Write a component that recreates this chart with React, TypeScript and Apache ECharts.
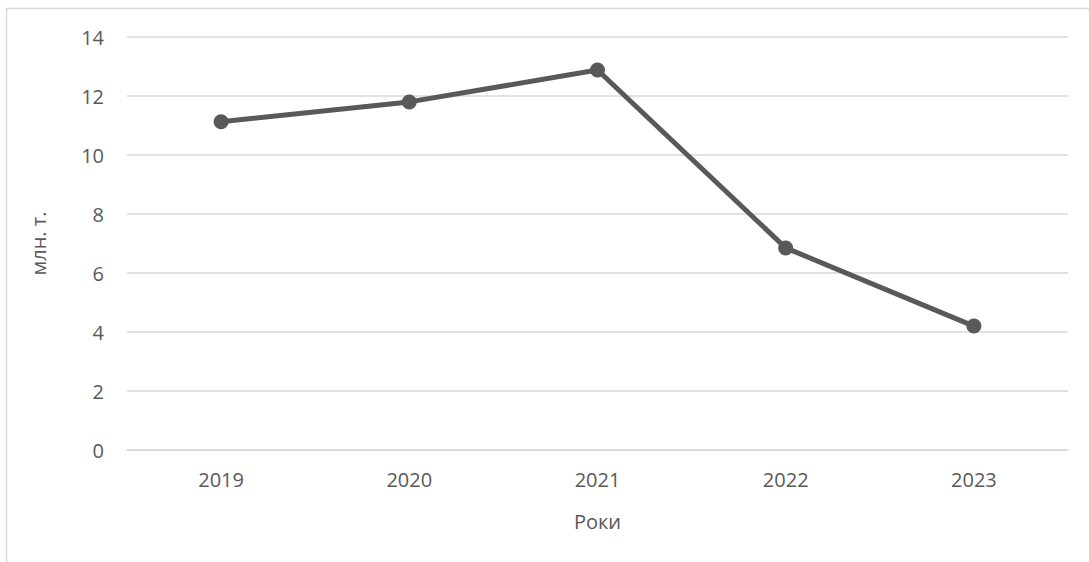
import React, { useEffect, useRef } from "react";
import * as echarts from "echarts";

const categories = ["2019", "2020", "2021", "2022", "2023"];
const values = [11.13, 11.8, 12.88, 6.85, 4.2];
const yTicks = { min: 0, max: 14, interval: 2 };
const xName = "Роки";
const yName = "млн. т.";

export default function App() {
  const ref = useRef<HTMLDivElement>(null);
  useEffect(() => {
    document.body.style.margin = "0";
    const chart = echarts.init(ref.current!, null, { renderer: "svg" });
    const font = "'Open Sans', sans-serif";
    chart.setOption({
      animation: false,
      backgroundColor: "#ffffff",
      graphic: [
        {
          type: "rect",
          shape: { x: 6.5, y: 8.5, width: 1200, height: 700 },
          style: { fill: "none", stroke: "#d9d9d9", lineWidth: 1.5 },
          silent: true,
        },
      ],
      grid: { left: 127, right: 21, top: 37, bottom: 112 },
      xAxis: {
        type: "category",
        data: categories,
        boundaryGap: true,
        name: xName,
        nameLocation: "middle",
        nameGap: 61,
        nameTextStyle: { color: "#595959", fontSize: 20, fontFamily: font },
        axisLine: { show: true, lineStyle: { color: "#d9d9d9", width: 1.5 } },
        axisTick: { show: false },
        axisLabel: { color: "#595959", fontSize: 20, fontFamily: font, margin: 19 },
      },
      yAxis: {
        type: "value",
        min: yTicks.min,
        max: yTicks.max,
        interval: yTicks.interval,
        name: yName,
        nameLocation: "middle",
        nameGap: 79,
        nameTextStyle: { color: "#595959", fontSize: 20, fontFamily: font },
        axisLine: { show: false },
        axisTick: { show: false },
        splitLine: { lineStyle: { color: "#d9d9d9", width: 1.5 } },
        axisLabel: { color: "#595959", fontSize: 20, fontFamily: font, margin: 23 },
      },
      series: [
        {
          type: "line",
          data: values,
          symbol: "circle",
          symbolSize: 15,
          lineStyle: { color: "#595959", width: 5 },
          itemStyle: { color: "#595959" },
        },
      ],
    });
    return () => chart.dispose();
  }, []);
  return <div ref={ref} style={{ width: 1089, height: 562 }} />;
}
